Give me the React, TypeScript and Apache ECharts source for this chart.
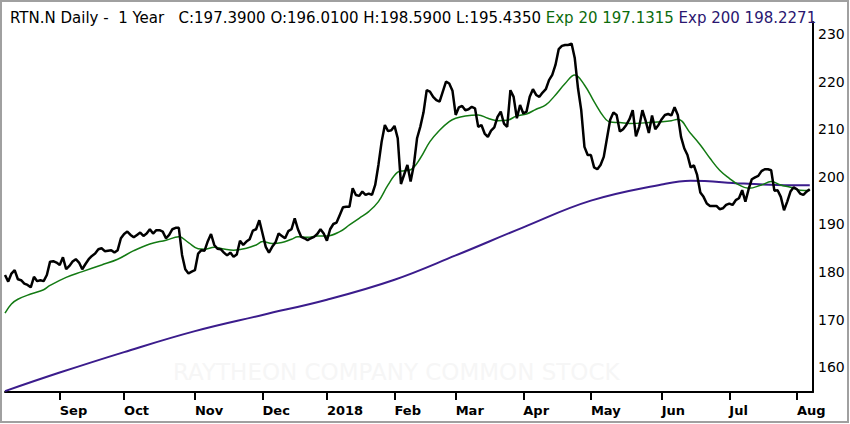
import React, { useEffect, useRef } from "react";
import * as echarts from "echarts";

const FONT = '"DejaVu Sans", Verdana, sans-serif';

// NYSE holidays inside the period
const holidays = [
  "2017-09-04", "2017-11-23", "2017-12-25", "2018-01-01", "2018-01-15",
  "2018-02-19", "2018-03-30", "2018-05-28", "2018-07-04",
];

function buildTradingDays(): string[] {
  const out: string[] = [];
  const d = new Date(Date.UTC(2017, 7, 9));
  const end = Date.UTC(2018, 7, 8);
  while (d.getTime() <= end) {
    const wd = d.getUTCDay();
    const s = d.toISOString().slice(0, 10);
    if (wd !== 0 && wd !== 6 && holidays.indexOf(s) < 0) out.push(s);
    d.setUTCDate(d.getUTCDate() + 1);
  }
  return out;
}

const dates = buildTradingDays();

const monthTickLabels = ["Sep", "Oct", "Nov", "Dec", "2018", "Feb", "Mar", "Apr", "May", "Jun", "Jul", "Aug"];
const yTickValues = [160, 170, 180, 190, 200, 210, 220, 230];

// Daily closes, Aug 9 2017 .. Aug 7 2018
const closes = [
  179.4, 178.0, 179.7, 180.4, 178.5, 178.3, 177.6, 177.3, 176.8, 179.0, 178.1, 178.3, 178.1, 179.4, 182.2, 182.3, 182.0,
  181.5, 183.1, 180.6, 181.3, 182.2, 182.7, 182.0, 180.6, 181.7, 182.7, 183.4, 183.9, 184.8, 185.0, 184.4, 184.5, 184.6, 184.1, 184.6, 187.1,
  188.0, 188.5, 187.8, 187.3, 187.8, 188.3, 187.6, 188.1, 189.0, 188.1, 188.8, 188.8, 188.5, 187.1, 187.8, 189.0, 189.3, 189.3, 183.6, 180.6, 179.7, 180.1,
  180.4, 183.9, 184.6, 184.5, 186.5, 188.0, 185.7, 184.9, 184.8, 184.1, 183.5, 184.1, 183.2, 183.7, 186.6, 185.7, 186.4, 186.9, 188.7, 189.0, 190.9,
  188.1, 185.3, 184.1, 185.3, 186.2, 188.1, 187.6, 187.1, 188.6, 189.0, 191.3, 189.0, 187.4, 187.1, 186.7, 187.1, 187.4, 188.0, 189.0, 188.1,
  186.6, 189.0, 190.1, 190.4, 192.0, 193.6, 193.7, 193.7, 197.6, 196.2, 196.0, 196.9, 196.2, 196.5, 196.2, 198.3, 202.5, 207.4, 210.9, 209.6, 209.8,
  210.7, 208.1, 198.5, 200.5, 202.5, 199.0, 202.5,
  208.1, 210.5, 213.5, 218.2, 217.9, 216.8, 216.1, 215.8, 217.9, 220.0, 219.6, 218.1, 213.0, 214.6, 214.9, 214.0, 214.2, 214.7, 214.4, 210.5, 210.9, 209.1, 208.4,
  209.7, 210.4, 212.6, 213.7, 211.2, 210.5, 218.2, 216.8, 212.3, 215.1, 213.3, 213.7, 216.8, 218.4, 217.2, 216.8, 217.7, 218.4, 220.3, 221.4, 223.5, 226.8, 227.5, 227.7, 227.7, 228.0,
  224.9, 218.6, 214.0, 206.3, 204.6, 204.6, 202.0, 201.6, 202.5, 204.2, 208.1,
  212.0, 213.5, 213.0, 209.5, 210.0, 210.9, 212.1, 214.0, 208.5, 210.5, 214.0, 211.8, 209.2, 212.9, 210.0, 210.9, 212.1, 213.0, 213.2, 212.9, 214.6, 213.0,
  208.4, 206.0, 204.6, 202.0, 202.4, 200.4, 196.7, 195.8, 194.4, 193.9, 193.9, 193.9, 193.2, 193.4, 194.1, 194.4, 194.1, 195.1, 195.5, 197.2, 194.8, 197.4,
  199.5, 199.9, 200.2, 201.2, 201.6, 201.6, 201.4, 197.1, 197.2, 195.8, 193.0, 194.8, 196.9, 197.8, 197.4, 196.5, 196.2, 196.9, 197.39,
];

// Exp 20 read at trading-day indices
const ema20Points: [number, number][] = [
  [0, 171.4], [2, 173.3], [4, 174.3], [8, 175.4], [12, 176.3], [14, 177.2], [19, 178.9], [24, 180.1], [30, 181.5],
  [35, 182.7], [40, 184.5], [45, 185.9], [50, 186.7], [54, 187.4], [57, 186.2], [60, 184.9], [62, 184.8], [65, 185.2],
  [68, 184.85], [71, 184.6], [75, 185.0], [78, 185.7], [80, 186.4], [83, 186.0], [86, 186.2], [89, 186.9], [91, 187.4],
  [94, 187.3], [97, 187.6], [100, 187.6], [104, 188.5], [107, 189.9], [110, 191.3], [113, 192.7], [116, 194.8],
  [119, 198.3], [122, 201.0], [124, 201.3], [126, 201.5], [129, 203.9], [132, 207.4], [135, 209.8], [138, 211.6],
  [140, 212.3], [143, 212.8], [147, 213.0], [150, 212.3], [153, 211.8], [156, 211.9], [159, 212.8], [162, 213.2],
  [165, 214.2], [168, 215.1], [171, 217.2], [174, 219.6], [177, 221.4], [180, 219.3], [183, 215.8], [186, 212.6],
  [188, 211.5], [191, 211.4], [194, 211.2], [200, 211.4], [207, 211.8], [209, 212.1], [213, 209.1], [216, 206.7],
  [219, 203.9], [222, 201.4], [225, 199.7], [228, 198.3], [231, 197.6], [235, 198.3], [238, 199.0], [241, 198.3],
  [244, 197.8], [247, 197.2], [250, 197.13],
];

// Exp 200 read at trading-day indices
const ema200Points: [number, number][] = [
  [0, 155.0], [17, 158.9], [37, 163.2], [59, 167.6], [80, 171.0], [100, 174.2], [121, 178.4], [140, 183.5],
  [161, 189.4], [182, 195.0], [204, 198.4], [213, 199.2], [229, 198.6], [240, 198.3], [250, 198.23],
];

const monthStartIdx: number[] = [];
for (let i = 1; i < dates.length; i++) {
  if (dates[i].slice(5, 7) !== dates[i - 1].slice(5, 7)) monthStartIdx.push(i);
}
const labelByDate: Record<string, string> = {};
monthStartIdx.forEach((idx, k) => {
  labelByDate[dates[idx]] = monthTickLabels[k] ?? "";
});
const monthStartSet = new Set(monthStartIdx);

export default function App() {
  const ref = useRef<HTMLDivElement>(null);
  useEffect(() => {
    if (!ref.current) return;
    const chart = echarts.init(ref.current, undefined, { renderer: "svg" });
    const titleBase = { fontSize: 15, fontFamily: FONT, lineHeight: 18, fontWeight: "normal" as const };
    const option = {
      animation: false,
      backgroundColor: "#ffffff",
      title: {
        left: 5,
        top: 4,
        text:
          "{k|RTN.N Daily -\u00a0\u00a01 Year\u00a0\u00a0\u00a0C:197.3900 O:196.0100 H:198.5900 L:195.4350 }{g|Exp 20 197.1315 }{p|Exp 200 198.2271}",
        textStyle: {
          fontWeight: "normal",
          fontSize: 15,
          fontFamily: FONT,
          rich: {
            k: { ...titleBase, color: "#000000" },
            g: { ...titleBase, color: "#0c6b0c" },
            p: { ...titleBase, color: "#2a1670" },
          },
        },
      },
      grid: { left: 5, right: 37, top: 22, bottom: 32 },
      xAxis: {
        type: "category",
        data: dates,
        boundaryGap: false,
        axisLine: { show: true, lineStyle: { color: "#000000", width: 2 } },
        axisTick: {
          show: true,
          interval: (idx: number) => monthStartSet.has(idx),
          length: 8,
          lineStyle: { color: "#000000", width: 2 },
        },
        axisLabel: {
          interval: (idx: number) => monthStartSet.has(idx),
          formatter: (v: string) => labelByDate[v] ?? "",
          align: "left",
          margin: 12,
          color: "#000000",
          fontWeight: "bold",
          fontSize: 13,
          fontFamily: FONT,
        },
        splitLine: { show: false },
      },
      yAxis: {
        type: "value",
        position: "right",
        min: 154.82,
        max: 232.52,
        axisLine: { show: true, lineStyle: { color: "#000000", width: 2 } },
        axisTick: { show: false },
        splitLine: { show: false },
        axisLabel: {
          customValues: yTickValues,
          color: "#000000",
          fontSize: 14,
          margin: 5,
          fontFamily: FONT,
        },
      },
      graphic: [
        {
          type: "text",
          x: 173,
          y: 372,
          z: 0,
          silent: true,
          style: {
            text: "RAYTHEON COMPANY COMMON STOCK",
            fill: "#f6f6f6",
            font: '23px "DejaVu Sans"',
            verticalAlign: "middle",
          },
        },
        {
          type: "rect",
          z: 100,
          silent: true,
          shape: { x: 1, y: 1, width: 847, height: 421 },
          style: { fill: "none", stroke: "#a0a0a0", lineWidth: 2 },
        },
      ],
      series: [
        {
          name: "Exp 200",
          type: "line",
          data: ema200Points.map(([i, v]) => [dates[i], v]),
          smooth: 0.4,
          symbol: "none",
          lineStyle: { color: "#3b1c8c", width: 2 },
          z: 2,
        },
        {
          name: "Exp 20",
          type: "line",
          data: ema20Points.map(([i, v]) => [dates[i], v]),
          smooth: 0.4,
          symbol: "none",
          lineStyle: { color: "#137a13", width: 1.5 },
          z: 3,
        },
        {
          name: "Close",
          type: "line",
          data: closes,
          symbol: "none",
          lineStyle: { color: "#000000", width: 2.5 },
          z: 4,
        },
      ],
    };
    chart.setOption(option as any);
    return () => chart.dispose();
  }, []);
  return (
    <div
      ref={ref}
      style={{ position: "fixed", left: 0, top: 0, width: 850, height: 424, background: "#fff" }}
    />
  );
}
